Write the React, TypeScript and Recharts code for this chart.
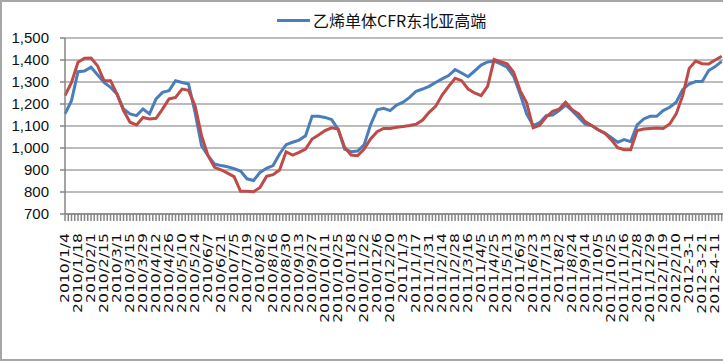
import React from 'react';
import { LineChart, Line, XAxis, YAxis, CartesianGrid } from 'recharts';

// category labels, one every 2 weeks (later ~3 weeks)
const dateLabels = [
  '2010/1/4', '2010/1/18', '2010/2/1', '2010/2/15', '2010/3/1', '2010/3/15', '2010/3/29',
  '2010/4/12', '2010/4/26', '2010/5/10', '2010/5/24', '2010/6/7', '2010/6/21', '2010/7/5',
  '2010/7/19', '2010/8/2', '2010/8/16', '2010/8/30', '2010/9/13', '2010/9/27', '2010/10/11',
  '2010/10/25', '2010/11/8', '2010/11/22', '2010/12/6', '2010/12/20', '2011/1/3', '2011/1/17',
  '2011/1/31', '2011/2/14', '2011/2/28', '2011/3/16', '2011/4/5', '2011/4/25', '2011/5/13',
  '2011/6/3', '2011/6/23', '2011/7/13', '2011/8/2', '2011/8/24', '2011/9/14', '2011/10/5',
  '2011/10/25', '2011/11/16', '2011/12/8', '2011/12/29', '2012/1/19', '2012/2/10', '2012-3-1',
  '2012-3-21', '2012-4-11',
];

// values read every half label step
const cfrHigh = [
  1155, 1215, 1347, 1350, 1367, 1333, 1298, 1276, 1245, 1177,
  1155, 1147, 1177, 1155, 1223, 1253, 1261, 1306, 1298, 1291,
  1162, 1011, 965, 927, 920, 915, 906, 895, 860, 852,
  889, 908, 920, 973, 1015, 1026, 1036, 1056, 1144, 1144,
  1139, 1129, 1086, 995, 983, 986, 1014, 1105, 1174, 1180,
  1170, 1195, 1208, 1230, 1258, 1268, 1280, 1298, 1314, 1329,
  1356, 1341, 1324, 1350, 1377, 1391, 1395, 1382, 1367, 1326,
  1245, 1155, 1102, 1115, 1147, 1150, 1170, 1195, 1170, 1139,
  1109, 1102, 1083, 1068, 1048, 1026, 1038, 1029, 1105, 1132,
  1144, 1144, 1170, 1185, 1208, 1265, 1291, 1302, 1302, 1352,
  1370, 1394,
];

const secondSeries = [
  1238, 1298, 1390, 1408, 1409, 1374, 1306, 1306, 1245, 1170,
  1117, 1105, 1139, 1132, 1135, 1177, 1223, 1230, 1268, 1262,
  1192, 1056, 965, 912, 901, 886, 870, 803, 803, 801,
  821, 871, 879, 900, 983, 968, 980, 995, 1041, 1059,
  1079, 1092, 1086, 1003, 968, 965, 995, 1041, 1074, 1089,
  1089, 1094, 1098, 1102, 1108, 1127, 1162, 1189, 1241, 1280,
  1317, 1306, 1268, 1250, 1238, 1280, 1402, 1392, 1383, 1344,
  1261, 1205, 1092, 1103, 1141, 1167, 1177, 1208, 1174, 1155,
  1120, 1102, 1083, 1068, 1038, 1001, 992, 992, 1079, 1086,
  1089, 1091, 1089, 1109, 1155, 1238, 1362, 1395, 1383, 1382,
  1400, 1417,
];

const yTicks = [700, 800, 900, 1000, 1100, 1200, 1300, 1400, 1500];

const STEP = 0.5;
const data = cfrHigh.map((v, k) => ({ pos: k * STEP, blue: v, red: secondSeries[k] }));
// minor tick marks: 4 per label interval
const xTicks = Array.from({ length: 203 }, (_, k) => k / 4);

const BLUE = '#4a7ebb';
const RED = '#be4b48';

const XTick = (props: any) => {
  const { x, payload } = props;
  const v = payload.value;
  if (!Number.isInteger(v) || !dateLabels[v]) return null;
  return (
    <g transform={`translate(${x},233)`}>
      <text
        transform="rotate(-90) scale(1.3,1)"
        textAnchor="end"
        dy="0.35em"
        fontSize={12}
        fontFamily="'DejaVu Sans', sans-serif"
        fill="#111"
      >
        {dateLabels[v]}
      </text>
    </g>
  );
};

const App = () => (
  <div style={{ position: 'fixed', left: 0, top: 0, width: 723, height: 362, overflow: 'hidden', background: '#fff' }}>
    <div
      style={{
        position: 'absolute', left: 0, top: 0, width: 900, height: 361,
        border: '2px solid #a6a6a6', boxSizing: 'border-box',
      }}
    />
    <div style={{ position: 'absolute', left: 0, top: 0 }}>
      <LineChart width={723} height={362} data={data} margin={{ top: 38, right: 0, bottom: 0, left: 0 }}>
        <CartesianGrid vertical={false} stroke="#a6a6a6" strokeWidth={1.5} />
        <XAxis
          dataKey="pos"
          type="number"
          domain={[0, 50.6]}
          ticks={xTicks}
          interval={0}
          height={148}
          tickSize={7}
          tick={<XTick />}
          axisLine={{ stroke: '#868686', strokeWidth: 1.5 }}
          tickLine={{ stroke: '#868686', strokeWidth: 1.5 }}
        />
        <YAxis
          domain={[700, 1500]}
          ticks={yTicks}
          interval={0}
          width={65}
          tickSize={5}
          tickMargin={11}
          tickFormatter={(v: number) => v.toLocaleString('en-US')}
          tick={{ fontSize: 15, fill: '#111', fontFamily: "'Liberation Sans', Arial, sans-serif" }}
          axisLine={{ stroke: '#868686', strokeWidth: 1.5 }}
          tickLine={{ stroke: '#868686', strokeWidth: 1.5 }}
        />
        <Line dataKey="blue" stroke={BLUE} strokeWidth={3} dot={false} isAnimationActive={false} />
        <Line dataKey="red" stroke={RED} strokeWidth={3} dot={false} isAnimationActive={false} />
      </LineChart>
    </div>
    {/* legend: only the first series is listed */}
    <div style={{ position: 'absolute', left: 277, top: 11, height: 18, display: 'flex', alignItems: 'center' }}>
      <div style={{ width: 33, height: 3, background: BLUE, marginRight: 3 }} />
      <div
        style={{
          fontSize: 16, lineHeight: '18px', whiteSpace: 'nowrap',
          fontFamily: "'Noto Sans CJK SC', sans-serif", color: '#111',
        }}
      >
        乙烯单体CFR东北亚高端
      </div>
    </div>
  </div>
);

export default App;
